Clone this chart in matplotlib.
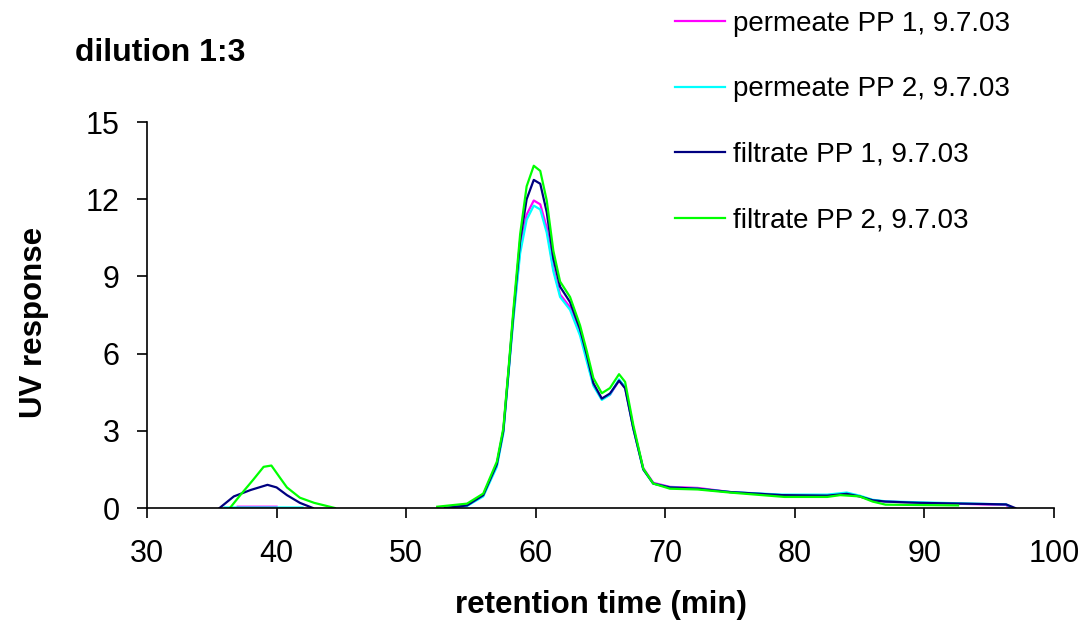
import numpy as np
import matplotlib
matplotlib.use('Agg')
import matplotlib.pyplot as plt

plt.rcParams['font.family'] = ['Liberation Sans', 'DejaVu Sans']

nan = np.nan

# shared retention times for the main peak (min)
main_x = [53.0, 54.7, 55.95, 57.0, 57.5, 57.9, 58.27, 58.8, 59.3, 59.85, 60.35,
          60.85, 61.36, 61.88, 62.65, 63.42, 63.94, 64.45, 65.1, 65.73, 66.43,
          66.9, 67.53, 68.3, 69.07, 70.36, 72.5, 75.0, 79.0, 82.5, 84.0, 85.0,
          86.0, 87.0, 89.6, 96.3]

# permeate PP 1 (magenta)
perm1_x = [37.0, 38.5, 40.0, nan] + main_x + [96.6]
perm1_y = [0.05, 0.05, 0.05, nan,
           0.0, 0.1, 0.5, 1.7, 3.0, 5.3, 7.4, 10.1, 11.4, 11.95, 11.8,
           10.9, 9.3, 8.3, 7.8, 6.8, 5.8, 4.8, 4.25, 4.4, 4.95,
           4.7, 3.1, 1.55, 0.98, 0.82, 0.78, 0.62, 0.5, 0.5, 0.55, 0.45,
           0.3, 0.25, 0.2, 0.12, 0.0]

# permeate PP 2 (cyan)
perm2_x = [36.0, 38.0, 40.0, 42.0, nan] + main_x + [96.8]
perm2_y = [0.02, 0.02, 0.02, 0.02, nan,
           0.0, 0.08, 0.45, 1.6, 2.9, 5.2, 7.3, 9.9, 11.2, 11.75, 11.6,
           10.7, 9.2, 8.2, 7.7, 6.7, 5.7, 4.75, 4.2, 4.4, 5.0,
           4.7, 3.1, 1.5, 0.95, 0.8, 0.75, 0.62, 0.52, 0.52, 0.6, 0.48,
           0.32, 0.26, 0.22, 0.14, 0.0]

# filtrate PP 1 (navy)
filt1_x = [35.6, 36.7, 38.0, 39.3, 40.0, 40.8, 41.8, 42.8, nan] + main_x + [97.0]
filt1_y = [0.0, 0.45, 0.7, 0.9, 0.8, 0.5, 0.2, 0.0, nan,
           0.0, 0.1, 0.5, 1.7, 3.0, 5.3, 7.5, 10.4, 12.0, 12.75, 12.6,
           11.5, 9.7, 8.6, 8.0, 6.95, 5.95, 4.85, 4.25, 4.45, 4.95,
           4.65, 3.1, 1.5, 0.95, 0.8, 0.75, 0.62, 0.5, 0.48, 0.55, 0.45,
           0.3, 0.25, 0.2, 0.14, 0.0]

# filtrate PP 2 (green)
filt2_x = [36.4, 37.2, 38.2, 39.0, 39.6, 40.3, 40.8, 41.8, 42.9, 44.5, nan,
           52.4] + main_x[1:28] + [79.2, 82.5, 83.5, 85.0, 86.0, 87.0, 92.6]
filt2_y = [0.0, 0.5, 1.1, 1.6, 1.65, 1.15, 0.8, 0.4, 0.2, 0.0, nan,
           0.05, 0.17, 0.56, 1.8, 3.1, 5.4, 7.66, 10.65, 12.5, 13.3, 13.1,
           11.95, 10.0, 8.8, 8.2, 7.1, 6.1, 5.05, 4.46, 4.66, 5.2,
           4.9, 3.23, 1.53, 0.95, 0.75, 0.72, 0.6,
           0.43, 0.43, 0.5, 0.45, 0.25, 0.13, 0.1]

series = [
    ('permeate PP 1, 9.7.03', perm1_x, perm1_y, '#FF00FF'),
    ('permeate PP 2, 9.7.03', perm2_x, perm2_y, '#00FFFF'),
    ('filtrate PP 1, 9.7.03', filt1_x, filt1_y, '#000080'),
    ('filtrate PP 2, 9.7.03', filt2_x, filt2_y, '#00FF00'),
]

fig = plt.figure(figsize=(10.86, 6.23), dpi=100)
ax = fig.add_axes([147 / 1086, 115 / 623, 907 / 1086, 386 / 623])

for label, xs, ys, color in series:
    ax.plot(xs, ys, color=color, linewidth=1.6, label=label)

ax.set_xlim(30, 100)
ax.set_ylim(0, 15)
ax.set_xticks(range(30, 101, 10))
ax.set_yticks(range(0, 16, 3))
ax.tick_params(direction='out', length=7.5, width=1.2, labelsize=22)
ax.tick_params(axis='x', pad=15)
ax.tick_params(axis='y', pad=12)
for side in ('top', 'right'):
    ax.spines[side].set_visible(False)
for side in ('left', 'bottom'):
    ax.spines[side].set_linewidth(1.2)

ax.set_xlabel('retention time (min)', fontsize=22.5, fontweight='bold', labelpad=15)
ax.set_ylabel('UV response', fontsize=22.5, fontweight='bold')
ax.yaxis.set_label_coords(-0.108, 0.48)
fig.text(75 / 1086, 1 - 53 / 623, 'dilution 1:3', fontsize=23, fontweight='bold', va='center')

fig.legend(loc='upper left', bbox_to_anchor=(675 / 1086, 1 - 11 / 623), frameon=False,
           fontsize=20, handlelength=1.8, handletextpad=0.3, labelspacing=1.42,
           borderpad=0, borderaxespad=0)

fig.savefig('out.png', dpi=100)
